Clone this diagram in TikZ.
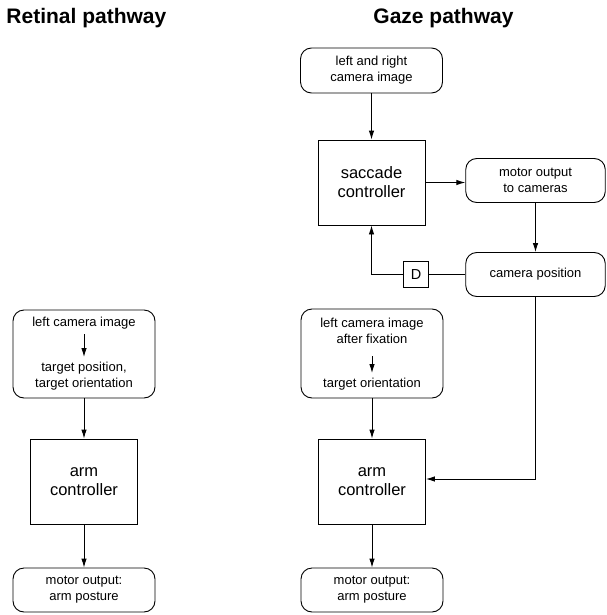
\documentclass[tikz,border=0pt]{standalone}
\usepackage{fontspec}
\setmainfont{Liberation Sans}
\usetikzlibrary{arrows.meta,calc}
\begin{document}
\begin{tikzpicture}[x=1pt,y=-1pt,
  every path/.style={line width=0.9pt},
  >={Latex[length=9pt,width=5.5pt]},
  rbox/.style={draw,rounded corners=11pt,inner sep=0pt,align=center,
    font=\fontsize{13}{16}\selectfont},
  ctrl/.style={draw,inner sep=0pt,minimum width=107pt,minimum height=85pt,align=center,
    font=\fontsize{16.5}{19}\selectfont},
  small/.style={inner sep=0pt,align=center,font=\fontsize{13}{16}\selectfont},
  title/.style={inner sep=0pt,anchor=base west,font=\fontsize{21}{24}\selectfont\bfseries},
  dbox/.style={draw,inner sep=0pt,minimum width=25pt,minimum height=26pt,
    font=\fontsize{14.5}{16}\selectfont}]
\useasboundingbox (0,0) rectangle (606,615);
\node[title] (t1) at (6,24) {Retinal pathway};
\node[title] (t2) at (373,24) {Gaze pathway};
% Gaze pathway top
\node[rbox,minimum width=142pt,minimum height=45pt] (lr) at (371.5,70.5) {left and right\\camera image};
\node[ctrl] (sacc) at (371.5,182.5) {saccade\\controller};
\node[rbox,minimum width=139.5pt,minimum height=44pt] (mcam) at (535.5,180.5) {motor output\\to cameras};
\node[rbox,minimum width=139.5pt,minimum height=44pt] (cpos) at (535.5,274.5) {camera position};
\node[dbox] (D) at (416,274.5) {D};
\draw[->] (lr) -- (sacc);
\draw[->] (sacc.east) -- (mcam.west |- sacc.east);
\draw[->] (mcam) -- (cpos);
\draw (cpos.west) -- (D.east);
\draw[->] (D.west) -| (sacc.south);
% Gaze pathway bottom
\node[rbox,minimum width=142pt,minimum height=89pt] (gbox) at (372,353.5) {};
\node[small] (g1) at (372,331) {left camera image\\after fixation};
\node[small] (g2) at (372,384) {target orientation};
\draw[->] (372,356) -- (372,373);
\node[ctrl] (armg) at (372,481.5) {arm\\controller};
\node[rbox,minimum width=142pt,minimum height=44pt] (mg) at (372,590) {motor output:\\arm posture};
\coordinate (bend) at (535.5,479);
\draw[->] (gbox) -- (armg);
\draw[->] (armg) -- (mg);
\draw[->] (cpos.south) -- (bend) -- (armg.east |- bend);
% Retinal pathway
\node[rbox,minimum width=142pt,minimum height=88pt] (rbox1) at (84,354) {};
\node[small] (r1) at (84,323) {left camera image};
\node[small] (r2) at (84,376) {target position,\\target orientation};
\draw[->] (84,334) -- (84,357);
\node[ctrl] (armr) at (84,481.5) {arm\\controller};
\node[rbox,minimum width=142pt,minimum height=44pt] (mr) at (84,590) {motor output:\\arm posture};
\draw[->] (rbox1) -- (armr);
\draw[->] (armr) -- (mr);
\end{tikzpicture}
\end{document}
